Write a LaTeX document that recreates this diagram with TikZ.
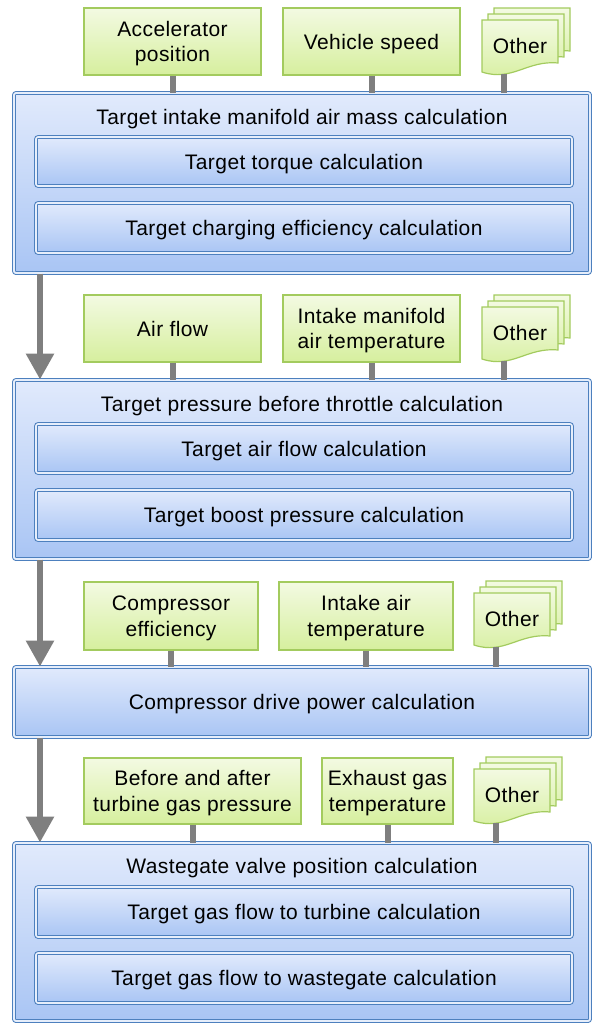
\documentclass[tikz,border=0pt]{standalone}
\usepackage{fontspec}
\setmainfont{Liberation Sans}[LetterSpace=2]
\usetikzlibrary{arrows.meta,calc}
\definecolor{gline}{HTML}{A3CB5E}
\definecolor{gtop}{HTML}{F3FAE2}
\definecolor{gbot}{HTML}{D6EF9E}
\definecolor{bline}{HTML}{4D80BE}
\definecolor{btop}{HTML}{E1EAFC}
\definecolor{bbot}{HTML}{A9C5F4}
\definecolor{bgap}{HTML}{E6EEFB}
\definecolor{conn}{HTML}{7F7F7F}
\tikzset{
  txt/.style={font=\fontsize{21}{25.5}\selectfont, align=center, text=black, text depth=0pt},
  inbox/.style={txt, draw=gline, line width=1.2pt, top color=gtop, bottom color=gbot, inner sep=0pt},
  bigbox/.style={draw=bline, double=bgap, double distance=1.8pt, line width=1pt, rounded corners=2pt, top color=btop, bottom color=bbot, inner sep=0pt},
  subbox/.style={txt, draw=bline, double=bgap, double distance=1.6pt, line width=1pt, rounded corners=2pt, top color=btop, bottom color=bbot, inner sep=0pt},
  page/.style={draw=gline, line width=1.2pt, top color=gtop, bottom color=gbot},
  link/.style={draw=conn, line width=6pt},
  flow/.style={draw=conn, line width=6pt, -{Triangle[width=27pt,length=26pt]}},
}
\newcommand{\docpage}[2]{%
  \path[page] (#1,#2) -- ++(76,0) -- ++(0,43) .. controls ++(-31,-3) and ++(30,10) .. ++(-76,9) -- cycle;}
\newcommand{\otherdocs}[3]{%
  \docpage{#2+12}{#3-12}
  \docpage{#2+6}{#3-6}
  \docpage{#2}{#3}
  \node[txt, inner sep=0pt] (#1) at (#2+38,#3+26) {Other};
  \coordinate (#1c) at (#2+22,#3+54);}
\begin{document}
\begin{tikzpicture}[x=1pt,y=-1pt]
\useasboundingbox (0,0) rectangle (592,1023);
\coordinate (ax) at (40,0);

% ---- stage 1
\node[inbox, minimum width=177pt, minimum height=67pt] (acc) at (172.5,41.5) {Accelerator\\position};
\node[inbox, minimum width=177pt, minimum height=67pt] (veh) at (371.5,41.5) {Vehicle speed};
\otherdocs{oth1}{482}{20}
\node[bigbox, minimum width=576pt, minimum height=180pt] (big1) at (302,183) {};
\node[txt] (t1) at (302,117) {Target intake manifold air mass calculation};
\node[subbox, minimum width=536pt, minimum height=49pt] (s11) at (304,161.5) {Target torque calculation};
\node[subbox, minimum width=536pt, minimum height=50pt] (s12) at (304,228) {Target charging efficiency calculation};
\draw[link] (acc.south) -- (acc.south |- big1.north);
\draw[link] (veh.south) -- (veh.south |- big1.north);
\draw[link] (oth1c) -- (oth1c |- big1.north);

% ---- stage 2
\node[inbox, minimum width=177pt, minimum height=67pt] (air) at (172.5,328.5) {Air flow};
\node[inbox, minimum width=177pt, minimum height=67pt] (imt) at (371.5,328.5) {Intake manifold\\air temperature};
\otherdocs{oth2}{482}{307}
\node[bigbox, minimum width=576pt, minimum height=179pt] (big2) at (302,469.5) {};
\node[txt] (t2) at (302,404) {Target pressure before throttle calculation};
\node[subbox, minimum width=536pt, minimum height=49pt] (s21) at (304,448.5) {Target air flow calculation};
\node[subbox, minimum width=536pt, minimum height=50pt] (s22) at (304,515) {Target boost pressure calculation};
\draw[link] (air.south) -- (air.south |- big2.north);
\draw[link] (imt.south) -- (imt.south |- big2.north);
\draw[link] (oth2c) -- (oth2c |- big2.north);

% ---- stage 3
\node[inbox, minimum width=174pt, minimum height=68pt] (ce) at (171,616) {Compressor\\efficiency};
\node[inbox, minimum width=174pt, minimum height=68pt] (iat) at (366,616) {Intake air\\temperature};
\otherdocs{oth3}{474}{593}
\node[bigbox, txt, minimum width=576pt, minimum height=70pt] (big3) at (302,702) {Compressor drive power calculation};
\draw[link] (ce.south) -- (ce.south |- big3.north);
\draw[link] (iat.south) -- (iat.south |- big3.north);
\draw[link] (oth3c) -- (oth3c |- big3.north);

% ---- stage 4
\node[inbox, minimum width=217pt, minimum height=66pt] (bap) at (192.5,791) {Before and after\\turbine gas pressure};
\node[inbox, minimum width=131pt, minimum height=66pt] (egt) at (387.5,791) {Exhaust gas\\temperature};
\otherdocs{oth4}{474}{769}
\node[bigbox, minimum width=576pt, minimum height=178pt] (big4) at (302,932) {};
\node[txt] (t4) at (302,866) {Wastegate valve position calculation};
\node[subbox, minimum width=536pt, minimum height=50pt] (s41) at (304,912) {Target gas flow to turbine calculation};
\node[subbox, minimum width=536pt, minimum height=50pt] (s42) at (304,978) {Target gas flow to wastegate calculation};
\draw[link] (bap.south) -- (bap.south |- big4.north);
\draw[link] (egt.south) -- (egt.south |- big4.north);
\draw[link] (oth4c) -- (oth4c |- big4.north);

% ---- flow arrows
\draw[flow] (ax |- big1.south) -- (ax |- big2.north);
\draw[flow] (ax |- big2.south) -- (ax |- big3.north);
\draw[flow] (ax |- big3.south) -- (ax |- big4.north);
\end{tikzpicture}
\end{document}
